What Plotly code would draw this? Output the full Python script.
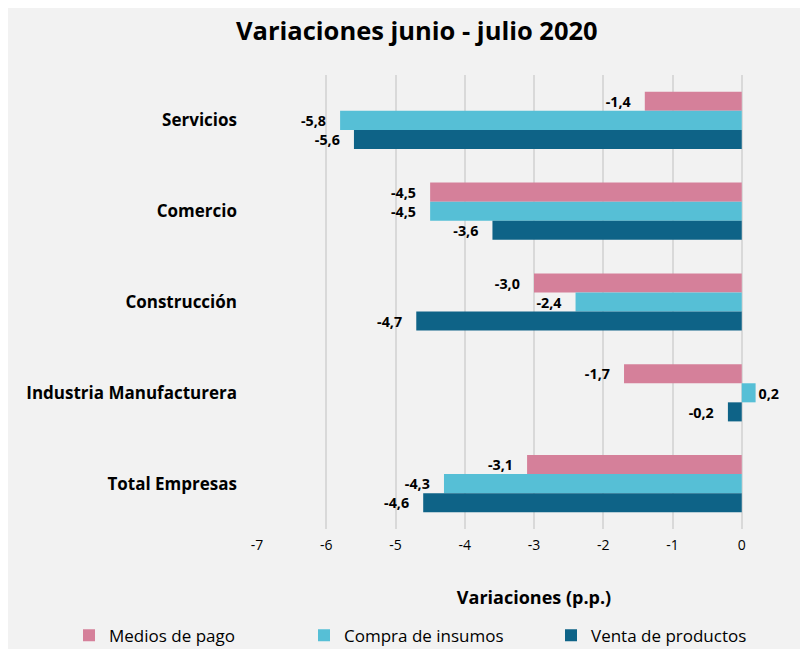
import plotly.graph_objects as go

categories = ["Servicios", "Comercio", "Construcción", "Industria Manufacturera", "Total Empresas"]
medios_de_pago = [-1.4, -4.5, -3.0, -1.7, -3.1]
compra_insumos = [-5.8, -4.5, -2.4, 0.2, -4.3]
venta_productos = [-5.6, -3.6, -4.7, -0.2, -4.6]
x_ticks = [-7, -6, -5, -4, -3, -2, -1, 0, 1]

FONT = "Open Sans"
PAD = "\u00a0" * 3

def lab(vals):
    out = []
    for v in vals:
        s = f"{v:.1f}".replace(".", ",")
        out.append(s + PAD if v < 0 else s)
    return out

series = [
    ("Medios de pago", medios_de_pago, "#D5809A", "legend", 61),
    ("Compra de insumos", compra_insumos, "#56BFD6", "legend2", 296),
    ("Venta de productos", venta_productos, "#0E6387", "legend3", 543),
]

fig = go.Figure()
for name, vals, col, leg, _ in series:
    fig.add_trace(go.Bar(
        y=categories, x=vals, name=name, orientation="h", legend=leg,
        marker=dict(color=col, line=dict(width=0)),
        text=lab(vals), textposition="outside", cliponaxis=False,
        textfont=dict(family=FONT, size=15, color="#000000", weight="bold"),
    ))

legend_common = dict(orientation="h", xref="container", yref="container",
                     xanchor="left", y=0.033, yanchor="middle", itemwidth=30,
                     font=dict(family=FONT, size=17, color="#000000"),
                     bgcolor="rgba(0,0,0,0)")
legends = {}
for name, vals, col, leg, px in series:
    legends[leg] = dict(legend_common, x=px / 808)

fig.update_layout(
    width=808, height=649,
    paper_bgcolor="#F2F2F2", plot_bgcolor="#F2F2F2",
    barmode="group", bargap=0.37, bargroupgap=0,
    margin=dict(l=249, r=5, t=67, b=128),
    title=dict(text="<b>Variaciones junio - julio 2020</b>", x=0.506, xanchor="center",
               y=0.965, yanchor="middle", font=dict(family=FONT, size=25.5, color="#000000")),
    font=dict(family=FONT, color="#000000"),
    showlegend=True,
    **legends,
)
fig.update_xaxes(range=[-7, 1], tickvals=x_ticks, ticktext=[str(t) for t in x_ticks],
                 showgrid=True, gridcolor="#D9D9D9", gridwidth=1.5, zeroline=False,
                 tickfont=dict(family=FONT, size=14, color="#000000"),
                 ticklabelstandoff=6, automargin=False,
                 title=dict(text="<b>Variaciones (p.p.)</b>", font=dict(family=FONT, size=18, color="#000000"),
                            standoff=38),
                 showline=False)
fig.update_yaxes(autorange="reversed", showgrid=False, zeroline=False, automargin=False,
                 tickfont=dict(family=FONT, size=17, color="#000000", weight="bold"),
                 ticklabelstandoff=19, showline=False)

fig.write_html("out.html")
